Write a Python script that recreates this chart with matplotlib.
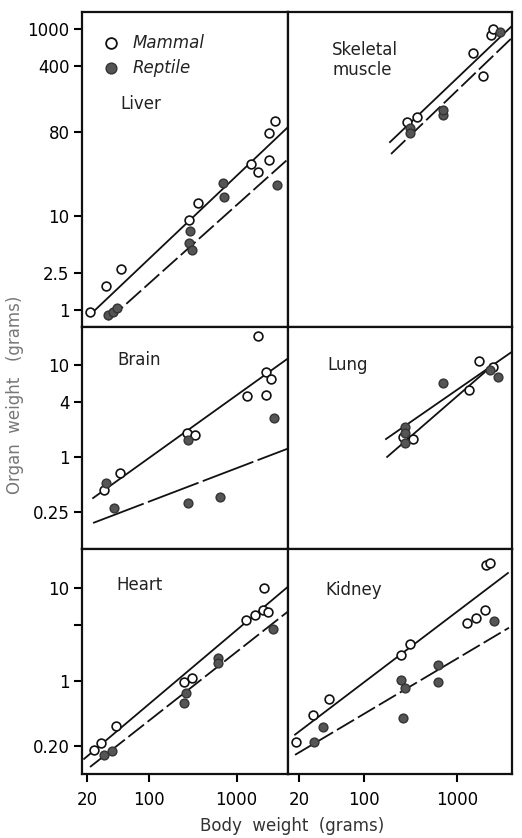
import numpy as np
import matplotlib
matplotlib.use("Agg")
import matplotlib.pyplot as plt

# ---------------- data ----------------
liver_mammal_x = [21.6, 32.9, 48.6, 289, 365, 1462, 1754, 2340, 2340, 2735]
liver_mammal_y = [0.95, 1.8, 2.74, 9.1, 13.9, 36, 30, 40, 77, 104]
liver_reptile_x = [34.7, 39.8, 43.9, 296, 289, 312, 701, 720, 2880]
liver_reptile_y = [0.88, 0.95, 1.05, 7.0, 5.2, 4.37, 22.7, 16, 21.6]

muscle_mammal_x = [290, 371, 1486, 1900, 2300, 2450]
muscle_mammal_y = [101, 115, 553, 314, 850, 1000]
muscle_reptile_x = [312, 312, 708, 708, 2900]
muscle_reptile_y = [87, 77, 120, 135, 930]

brain_mammal_x = [31.2, 47.4, 274, 337, 1315, 1754, 2162, 2162, 2466]
brain_mammal_y = [0.44, 0.67, 1.82, 1.74, 4.6, 20.7, 8.4, 4.7, 7.0]
brain_reptile_x = [32.9, 40.6, 281, 281, 649, 2668]
brain_reptile_y = [0.52, 0.28, 1.53, 0.32, 0.37, 2.65]

lung_mammal_x = [1722, 1345, 336, 264, 2440]
lung_mammal_y = [11.0, 5.35, 1.57, 1.65, 9.5]
lung_reptile_x = [708, 276, 276, 276, 2265, 2760]
lung_reptile_y = [6.4, 2.1, 1.82, 1.42, 8.8, 7.4]

heart_mammal_x = [24, 28.8, 42.8, 253, 312, 1282, 1622, 2000, 2280, 2052]
heart_mammal_y = [0.18, 0.217, 0.33, 0.97, 1.08, 4.6, 5.1, 5.8, 5.6, 10]
heart_reptile_x = [31.2, 38.5, 267, 253, 617, 617, 2600]
heart_reptile_y = [0.16, 0.178, 0.74, 0.58, 1.78, 1.57, 3.67]

kidney_mammal_x = [18.6, 28.3, 42, 250, 312, 1280, 1600, 2000, 2050, 2265]
kidney_mammal_y = [0.223, 0.43, 0.64, 1.92, 2.5, 4.27, 4.8, 5.8, 17.8, 18.7]
kidney_reptile_x = [29, 36, 250, 276, 263, 624, 624, 2500]
kidney_reptile_y = [0.223, 0.32, 1.02, 0.84, 0.40, 1.49, 0.97, 4.4]

# fitted allometric lines: organ = a * body^b, drawn over [xmin, xmax]
liver_mammal_fit = (0.0577, 0.89, 24.7, 4000)
liver_reptile_fit = (0.0397, 0.84, 34.7, 4500)
muscle_mammal_fit = (0.435, 0.945, 190, 4200)
muscle_reptile_fit = (0.304, 0.953, 195, 4500)
brain_mammal_fit = (0.0413, 0.685, 23.4, 4000)
brain_reptile_fit = (0.0607, 0.365, 23.4, 4000)
lung_mammal_fit = (0.0107, 0.877, 177, 2440)
lung_reptile_fit = (0.0427, 0.70, 172, 4000)
heart_mammal_fit = (0.0141, 0.80, 18.5, 4000)
heart_reptile_fit = (0.0121, 0.744, 21.6, 4000)
kidney_mammal_fit = (0.0294, 0.76, 18.1, 3530)
kidney_reptile_fit = (0.0287, 0.595, 18.1, 3620)

panel_names = ["Liver", "Skeletal\nmuscle", "Brain", "Lung", "Heart", "Kidney"]

row1_yticks = [1, 2.5, 10, 80, 400, 1000]
row1_ylabels = ["1", "2.5", "10", "80", "400", "1000"]
row2_yticks = [0.25, 1, 4, 10]
row2_ylabels = ["0.25", "1", "4", "10"]
row3_yticks = [0.2, 1, 4, 10]
row3_ylabels = ["0.20", "1", "", "10"]
xticks = [20, 100, 1000]
xlabels = ["20", "100", "1000"]

legend_labels = ["Mammal", "Reptile"]
xlabel_text = "Body  weight  (grams)"
ylabel_text = "Organ  weight   (grams)"

# ---------------- figure ----------------
W, H = 522, 838
plt.rcParams['font.family'] = ['DejaVu Sans']
fig = plt.figure(figsize=(W / 100, H / 100), dpi=100)
fig.patch.set_facecolor("white")

def fx(x):
    return x / W

def fy(y):
    return 1 - y / H

col_px = [(82, 288), (288, 512)]
row_px = [(12, 327), (327, 549), (549, 774)]
row_ylim = [(0.659, 1514), (0.1, 25.9), (0.1, 26.5)]
col_xlim = [(17.5, 3850), (15.2, 3900)]

long_dash = (0, (11, 2.5))
very_long_dash = (0, (30, 2.5))
data = [
    (liver_mammal_x, liver_mammal_y, liver_reptile_x, liver_reptile_y, liver_mammal_fit, liver_reptile_fit, long_dash),
    (muscle_mammal_x, muscle_mammal_y, muscle_reptile_x, muscle_reptile_y, muscle_mammal_fit, muscle_reptile_fit, long_dash),
    (brain_mammal_x, brain_mammal_y, brain_reptile_x, brain_reptile_y, brain_mammal_fit, brain_reptile_fit, very_long_dash),
    (lung_mammal_x, lung_mammal_y, lung_reptile_x, lung_reptile_y, lung_mammal_fit, lung_reptile_fit, "-"),
    (heart_mammal_x, heart_mammal_y, heart_reptile_x, heart_reptile_y, heart_mammal_fit, heart_reptile_fit, long_dash),
    (kidney_mammal_x, kidney_mammal_y, kidney_reptile_x, kidney_reptile_y, kidney_mammal_fit, kidney_reptile_fit, long_dash),
]
ytick_sets = [(row1_yticks, row1_ylabels), (row2_yticks, row2_ylabels), (row3_yticks, row3_ylabels)]
name_pos = [(120, 104), (332, 60), (117, 360), (327, 365), (116, 585), (325, 590)]

FS = 12
filled_face = "#555555"
for i, (mx, my, rx, ry, mfit, rfit, rls) in enumerate(data):
    r, c = divmod(i, 2)
    x0, x1 = col_px[c]
    y0, y1 = row_px[r]
    ax = fig.add_axes([fx(x0), fy(y1), fx(x1) - fx(x0), fy(y0) - fy(y1)])
    ax.set_xscale("log")
    ax.set_yscale("log")
    ax.set_xlim(*col_xlim[c])
    ax.set_ylim(*row_ylim[r])
    for s in ax.spines.values():
        s.set_linewidth(1.6)
        s.set_color("#111111")
    ax.minorticks_off()
    # fitted lines
    for fit, ls in ((mfit, "-"), (rfit, rls)):
        a, b, xa, xb = fit
        xs = np.array([xa, xb])
        ax.plot(xs, a * xs ** b, color="#111111", lw=1.3, ls=ls, zorder=2)
    ax.scatter(mx, my, s=40, facecolor="white", edgecolor="#111111", linewidth=1.2, zorder=3)
    ax.scatter(rx, ry, s=40, facecolor=filled_face, edgecolor="#333333", linewidth=1.0, zorder=3)
    # ticks
    if c == 0:
        ticks, labels = ytick_sets[r]
        ax.set_yticks(ticks)
        ax.set_yticklabels(labels, fontsize=FS)
        ax.tick_params(axis="y", direction="out", length=6, width=1.5, pad=3)
    else:
        ax.set_yticks([])
    if r == 2:
        ax.set_xticks(xticks)
        ax.set_xticklabels(xlabels, fontsize=FS)
        ax.tick_params(axis="x", direction="out", length=6, width=1.5, pad=6)
    else:
        ax.set_xticks([])
    ax.tick_params(which="minor", length=0)
    nx, ny = name_pos[i]
    fig.text(fx(nx), fy(ny), panel_names[i], fontsize=FS, ha="left", va="center",
             color="#222222", linespacing=1.1)

# legend (inside the Liver panel)
fig.text(fx(133), fy(43), legend_labels[0], fontsize=FS, style="italic", ha="left", va="center", color="#222222")
fig.text(fx(133), fy(68), legend_labels[1], fontsize=FS, style="italic", ha="left", va="center", color="#222222")
lax = fig.add_axes([0, 0, 1, 1], facecolor="none")
lax.set_xlim(0, W)
lax.set_ylim(H, 0)
lax.axis("off")
lax.scatter([111], [43], s=60, facecolor="white", edgecolor="#111111", linewidth=1.3)
lax.scatter([111], [68], s=60, facecolor=filled_face, edgecolor="#333333", linewidth=1.0)

fig.text(fx(292), fy(826), xlabel_text, fontsize=FS, ha="center", va="center", color="#333333")
fig.text(fx(15), fy(395), ylabel_text, fontsize=FS, ha="center", va="center", rotation=90, color="#777777")

fig.savefig("out.png", dpi=100, facecolor="white")
